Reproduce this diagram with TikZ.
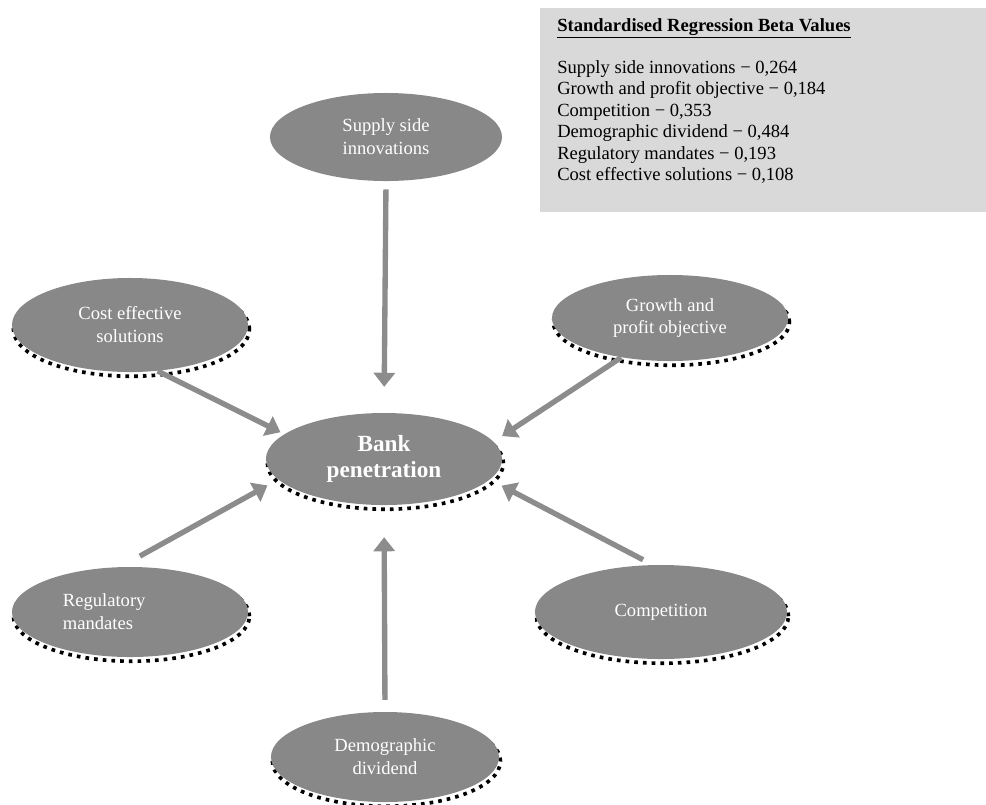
\documentclass[tikz,border=0pt]{standalone}
\usepackage{fontspec}
\setmainfont{Liberation Serif}
\usepackage{tikz}
\definecolor{nodeGray}{HTML}{888888}
\definecolor{arrowGray}{HTML}{8C8C8C}
\definecolor{boxGray}{HTML}{D9D9D9}
\usetikzlibrary{shapes.geometric}
\usetikzlibrary{arrows.meta}

\tikzset{
  factor/.style={ellipse, fill=nodeGray, text=white, align=center, inner sep=0pt,
    font=\fontsize{13.2}{16.3}\selectfont},
  dotshadow/.style={preaction={draw=black, line width=2.6pt, dash pattern=on 2.6pt off 3.6pt,
      transform canvas={shift={(1pt,-3pt)}}}},
  flow/.style={draw=arrowGray, line width=3.8pt, -{Triangle[width=15pt,length=10pt]}},
  betabox/.style={anchor=north west, fill=boxGray, inner xsep=0.425cm, inner ysep=0.25cm,
    minimum width=11.15cm, align=left, font=\fontsize{13.2}{15.3}\selectfont},
}

\begin{document}
\begin{tikzpicture}[x=0.025cm, y=-0.025cm]
        \useasboundingbox (0,0) rectangle (986,804);

        \node (beta) [betabox] at (540,8) {\parbox[c][4.6cm][t]{10.3cm}{%
            \underline{\textbf{Standardised Regression Beta Values}}\\[14.5pt]
            Supply side innovations − 0,264\\
            Growth and profit objective − 0,184\\
            Competition − 0,353\\
            Demographic dividend − 0,484\\
            Regulatory mandates − 0,193\\
            Cost effective solutions − 0,108}};

        \node (sup)    [factor, minimum width=5.8cm, minimum height=2.2cm]  at (386,137) {Supply side\\innovations};
        \node (cost)   [factor, dotshadow, minimum width=5.9cm, minimum height=2.35cm] at (130,325) {Cost effective\\solutions};
        \node (growth) [factor, dotshadow, minimum width=5.9cm, minimum height=2.15cm] at (670,318) {Growth and\\profit objective};
        \node (bank)   [factor, dotshadow, minimum width=5.9cm, minimum height=2.3cm,
                        font=\bfseries\fontsize{16.5}{19}\selectfont]      at (384,459) {Bank\\penetration};
        \node (reg)    [factor, dotshadow, minimum width=5.9cm, minimum height=2.25cm,
                        text width=3.35cm, align=left]                     at (130,612) {Regulatory\\mandates};
        \node (comp)   [factor, dotshadow, minimum width=6.3cm, minimum height=2.35cm] at (661,612) {Competition};
        \node (demo)   [factor, dotshadow, minimum width=5.7cm, minimum height=2.25cm] at (385,757) {Demographic\\dividend};

        % arrows into bank penetration
        \draw[flow, shorten <=5.7pt, shorten >=18.4pt] (sup.south)   -- (bank.north);
        \draw[flow, shorten >=3pt]                     (cost.-59)    -- (bank.166);
        \draw[flow, shorten >=7.2pt]                   (growth.-141) -- (bank.9);
        \draw[flow, shorten <=15.8pt, shorten >=8.6pt] (reg.102)     -- (bank.191);
        \draw[flow, shorten <=7.7pt, shorten >=9.3pt]  (comp.100)    -- (bank.-11);
        \draw[flow, shorten <=8.5pt, shorten >=22.7pt] (demo.north)  -- (bank.south);
    \end{tikzpicture}
\end{document}
